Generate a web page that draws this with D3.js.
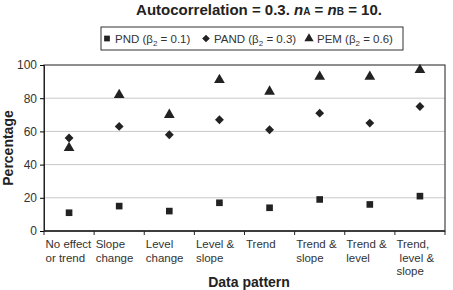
<!DOCTYPE html>
<html>
<head>
<meta charset="utf-8">
<script src="https://cdn.jsdelivr.net/npm/d3@7"></script>
<style>
  body { margin: 0; background: #fff; }
  text { font-family: "Liberation Sans", Arial, sans-serif; fill: #222; }
</style>
</head>
<body>
<div id="main"></div>
<script>
const ctx = {
    w: 453,
    h: 290,
    left: 44, right: 445, top: 65, bottom: 231
};

// data
const patterns = [
    ["No effect", "or trend"],
    ["Slope", "change"],
    ["Level", "change"],
    ["Level &", "slope"],
    ["Trend"],
    ["Trend &", "slope"],
    ["Trend &", "level"],
    ["Trend,", " level &", "slope"]
];
const pnd  = [11, 15, 12, 17, 14, 19, 16, 21];
const pand = [56, 63, 58, 67, 61, 71, 65, 75];
const pem  = [50, 82, 70, 91, 84, 93, 93, 97];
const yTicks = [0, 20, 40, 60, 80, 100];

const series = [
    {name: "PND", beta: "0.1", values: pnd, shape: d3.symbolSquare, size: 44},
    {name: "PAND", beta: "0.3", values: pand, shape: d3.symbolDiamond2, size: 50},
    {name: "PEM", beta: "0.6", values: pem, shape: d3.symbolTriangle, size: 50}
];

const svg = d3.select("#main").append("svg")
    .attr("width", ctx.w).attr("height", ctx.h);

const x = d3.scaleBand()
    .domain(d3.range(patterns.length))
    .range([ctx.left, ctx.right]);
const y = d3.scaleLinear().domain([0, 100]).range([ctx.bottom, ctx.top]);

// gridlines
svg.append("g").selectAll("line")
   .data(yTicks.filter(d => d > 0 && d < 100))
   .enter().append("line")
   .attr("x1", ctx.left).attr("x2", ctx.right)
   .attr("y1", d => y(d)).attr("y2", d => y(d))
   .style("stroke", "#c8c8c8").style("stroke-width", 1);

// frame
svg.append("rect")
   .attr("x", ctx.left).attr("y", ctx.top)
   .attr("width", ctx.right - ctx.left).attr("height", ctx.bottom - ctx.top)
   .style("fill", "none").style("stroke", "#444").style("stroke-width", 1.2);

// y axis
const yAxis = svg.append("g")
    .attr("transform", `translate(${ctx.left},0)`)
    .call(d3.axisLeft(y).tickValues(yTicks).tickSize(4).tickPadding(3));
yAxis.select(".domain").style("stroke", "#222");
yAxis.selectAll("text").style("font-size", "12px").style("fill", "#333");

// x axis: ticks on band edges
const xAxisG = svg.append("g");
xAxisG.append("line")
    .attr("x1", ctx.left).attr("x2", ctx.right)
    .attr("y1", ctx.bottom).attr("y2", ctx.bottom)
    .style("stroke", "#222").style("stroke-width", 1.4);
xAxisG.selectAll(".tk")
    .data(d3.range(patterns.length + 1))
    .enter().append("line")
    .attr("x1", d => ctx.left + d * x.bandwidth())
    .attr("x2", d => ctx.left + d * x.bandwidth())
    .attr("y1", ctx.bottom).attr("y2", ctx.bottom + 4)
    .style("stroke", "#222");

xAxisG.selectAll(".lbl")
    .data(patterns)
    .enter().append("text")
    .attr("x", (d, i) => x(i) + 1.5)
    .style("font-size", "11.5px").style("fill", "#333")
    .selectAll("tspan")
    .data(d => d)
    .enter().append("tspan")
    .attr("x", function() { return this.parentNode.getAttribute("x"); })
    .attr("y", (d, i) => 248 + i * 13.5)
    .attr("xml:space", "preserve")
    .text(d => d);

// points
series.forEach(s => {
    svg.append("g").selectAll("path")
       .data(s.values)
       .enter().append("path")
       .attr("transform", (d, i) => `translate(${x(i) + x.bandwidth() / 2},${y(d)})`)
       .attr("d", d3.symbol().type(s.shape).size(s.size))
       .style("fill", "#222");
});

// title
const title = svg.append("text")
    .attr("x", 259).attr("y", 15)
    .attr("text-anchor", "middle")
    .style("font-size", "15px").style("font-weight", "bold");
title.append("tspan").text("Autocorrelation = 0.3. ");
title.append("tspan").style("font-style", "italic").text("n");
title.append("tspan").style("font-size", "10px").text("A");
title.append("tspan").text(" = ");
title.append("tspan").style("font-style", "italic").text("n");
title.append("tspan").style("font-size", "10px").text("B");
title.append("tspan").text(" = 10.");

// legend
svg.append("rect")
   .attr("x", 101).attr("y", 27).attr("width", 302).attr("height", 23)
   .style("fill", "#fff").style("stroke", "#333").style("stroke-width", 1);

const legX = [107, 206, 309];
series.forEach((s, i) => {
    const g = svg.append("g").attr("transform", `translate(${legX[i]},38.5)`);
    g.append("path")
     .attr("d", d3.symbol().type(s.shape).size(s.size * 0.75))
     .style("fill", "#222");
    const t = g.append("text").attr("x", 8).attr("y", 4)
     .style("font-size", "11.5px").style("fill", "#333");
    t.append("tspan").text(`${s.name} (β`);
    t.append("tspan").attr("dy", 3).style("font-size", "8px").text("2");
    t.append("tspan").attr("dy", -3).text(` = ${s.beta})`);
});

// axis titles
svg.append("text")
   .attr("transform", `translate(13,${(ctx.top + ctx.bottom) / 2}) rotate(-90)`)
   .attr("text-anchor", "middle")
   .style("font-size", "14px").style("font-weight", "bold")
   .text("Percentage");

svg.append("text")
   .attr("x", 249).attr("y", 287)
   .attr("text-anchor", "middle")
   .style("font-size", "14px").style("font-weight", "bold")
   .text("Data pattern");
</script>
</body>
</html>
